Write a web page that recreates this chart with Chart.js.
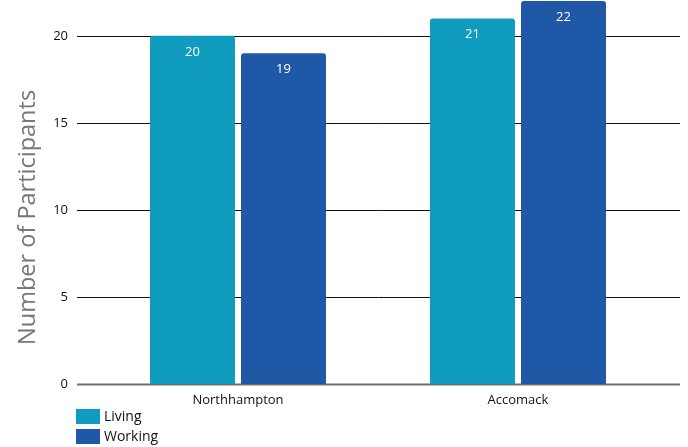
<!DOCTYPE html>
<html>
<head>
<meta charset="utf-8">
<script src="https://cdn.jsdelivr.net/npm/chart.js@4.4.1/dist/chart.umd.min.js"></script>
<style>
    html, body { margin: 0; padding: 0; background: #fff; }
    #wrap { width: 688px; height: 447px; }
</style>
</head>
<body>
<div id="wrap"><canvas id="chart"></canvas></div>
<script>
const counties = ['Northhampton', 'Accomack'];
const seriesNames = ['Living', 'Working'];
const living = [20, 21];
const working = [19, 22];
const yTicks = [0, 5, 10, 15, 20];
const yTitle = 'Number of Participants';

const FONT = '"Open Sans", "Noto Sans", sans-serif';
const colors = ['#109cbe', '#1f58a6'];

// horizontal rules run a bit past the plot area on both sides
const gridLines = {
    id: 'gridLines',
    beforeDatasetsDraw(chart) {
        const { ctx, chartArea, scales: { y } } = chart;
        ctx.save();
        y.ticks.forEach((t) => {
            const py = Math.round(y.getPixelForValue(t.value)) + 0.5;
            ctx.strokeStyle = t.value === 0 ? '#707070' : '#111';
            ctx.lineWidth = t.value === 0 ? 2 : 1;
            ctx.beginPath();
            ctx.moveTo(chartArea.left - 21, py);
            ctx.lineTo(chartArea.right + 22, py);
            ctx.stroke();
        });
        ctx.restore();
    },
};

// value printed inside the top of each bar
const barValues = {
    id: 'barValues',
    afterDatasetsDraw(chart) {
        const { ctx } = chart;
        ctx.save();
        ctx.fillStyle = '#fff';
        ctx.font = `13px ${FONT}`;
        ctx.textAlign = 'center';
        ctx.textBaseline = 'middle';
        chart.data.datasets.forEach((ds, i) => {
            chart.getDatasetMeta(i).data.forEach((bar, j) => {
                ctx.fillText(String(ds.data[j]), bar.x, bar.y + 16);
            });
        });
        ctx.restore();
    },
};

// rotated axis title, sitting a little below the middle of the axis
const axisTitle = {
    id: 'axisTitle',
    afterDraw(chart) {
        const { ctx, chartArea } = chart;
        ctx.save();
        ctx.translate(28, chartArea.top + (chartArea.bottom - chartArea.top) * 0.565);
        ctx.rotate(-Math.PI / 2);
        ctx.font = `23.5px ${FONT}`;
        ctx.fillStyle = '#777';
        ctx.textAlign = 'center';
        ctx.textBaseline = 'middle';
        ctx.fillText(yTitle, 0, 0);
        ctx.restore();
    },
};

// stacked legend under the axis, left aligned
const stackedLegend = {
    id: 'stackedLegend',
    afterDraw(chart) {
        const { ctx, chartArea } = chart;
        const x = chartArea.left - 22;
        ctx.save();
        ctx.font = `14px ${FONT}`;
        ctx.textBaseline = 'middle';
        chart.data.datasets.forEach((ds, i) => {
            const top = chartArea.bottom + 25 + i * 20;
            ctx.fillStyle = ds.backgroundColor;
            ctx.fillRect(x, top, 24, 15);
            ctx.fillStyle = '#111';
            ctx.fillText(ds.label, x + 28, top + 8);
        });
        ctx.restore();
    },
};

new Chart(document.getElementById('chart'), {
    type: 'bar',
    data: {
        labels: counties,
        datasets: [
            { label: seriesNames[0], data: living, backgroundColor: colors[0] },
            { label: seriesNames[1], data: working, backgroundColor: colors[1] },
        ],
    },
    options: {
        responsive: true,
        maintainAspectRatio: false,
        animation: false,
        layout: { padding: { top: 1, right: 30, left: 0, bottom: 0 } },
        datasets: {
            bar: {
                categoryPercentage: 0.65,
                barPercentage: 0.934,
                borderRadius: { topLeft: 3, topRight: 3 },
                borderSkipped: 'bottom',
            },
        },
        plugins: {
            legend: { display: false },
            tooltip: { enabled: false },
        },
        scales: {
            x: {
                grid: { display: false, drawTicks: false },
                border: { display: false },
                ticks: { color: '#111', font: { family: FONT, size: 13 }, padding: 8 },
                afterFit(scale) {
                    scale.height = 63;
                    scale.paddingLeft = 0;
                    scale.paddingRight = 0;
                },
            },
            y: {
                min: 0,
                max: 22,
                grid: { display: false, drawTicks: false },
                border: { display: false },
                afterBuildTicks(scale) {
                    scale.ticks = yTicks.map((v) => ({ value: v }));
                },
                ticks: { color: '#111', font: { family: FONT, size: 13 }, padding: 30 },
                afterFit(scale) {
                    scale.width = 98;
                    scale.paddingTop = 0;
                    scale.paddingBottom = 0;
                },
            },
        },
    },
    plugins: [gridLines, barValues, axisTitle, stackedLegend],
});
</script>
</body>
</html>
